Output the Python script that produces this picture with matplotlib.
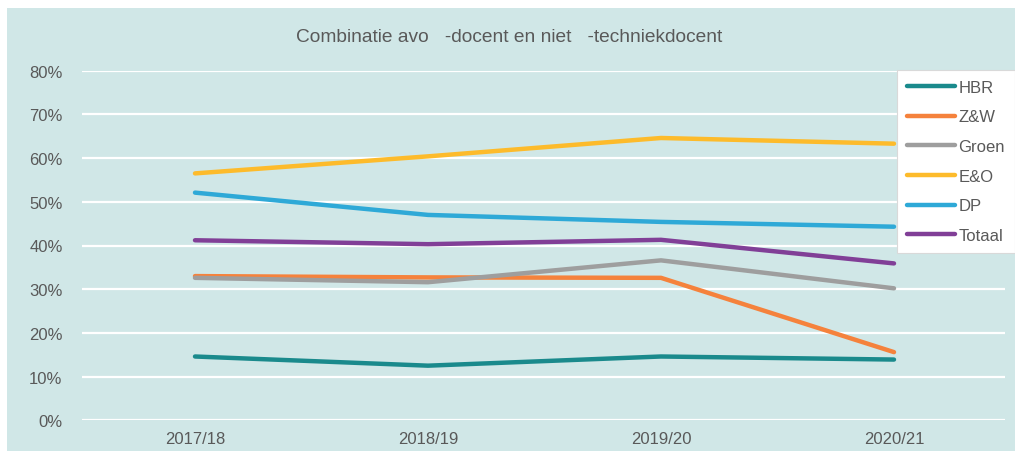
import matplotlib.pyplot as plt
from matplotlib.patches import Rectangle
from matplotlib.ticker import PercentFormatter

plt.rcParams['font.family'] = ['Liberation Sans', 'DejaVu Sans']

years = ['2017/18', '2018/19', '2019/20', '2020/21']
hbr = [0.146, 0.125, 0.146, 0.139]
zw = [0.330, 0.327, 0.326, 0.156]
groen = [0.326, 0.316, 0.366, 0.302]
eo = [0.565, 0.604, 0.646, 0.633]
dp = [0.521, 0.470, 0.454, 0.443]
totaal = [0.412, 0.403, 0.413, 0.359]

series = [('HBR', hbr, '#1a8a8c'),
          ('Z&W', zw, '#f5823c'),
          ('Groen', groen, '#9e9e9e'),
          ('E&O', eo, '#fdbb2b'),
          ('DP', dp, '#2ea9d7'),
          ('Totaal', totaal, '#813f97')]

txt = '#595959'
bg = '#d0e7e7'

fig = plt.figure(figsize=(10.15, 4.52), dpi=100)
fig.patches.append(Rectangle((7/1015, 0), 1 - 7/1015, 1 - 9/452,
                             transform=fig.transFigure, facecolor=bg,
                             edgecolor='none', zorder=-10))

ax = fig.add_axes([82/1015, (452-421.3)/452, (1005-82)/1015, (421.3-71.7)/452])
ax.set_facecolor('none')

x = list(range(len(years)))
for name, vals, col in series:
    ax.plot(x, vals, color=col, lw=3.2, label=name, solid_capstyle='round',
            solid_joinstyle='round')

ax.set_ylim(0, 0.8)
ax.set_xlim((82-195)/233, (1005-195)/233)
ax.set_yticks([i/10 for i in range(9)])
ax.yaxis.set_major_formatter(PercentFormatter(1.0, decimals=0))
ax.set_xticks(x)
ax.set_xticklabels(years)
ax.grid(axis='y', color='white', lw=1.6)
ax.set_axisbelow(True)
for s in ax.spines.values():
    s.set_visible(False)
ax.tick_params(axis='both', length=0, colors=txt, labelsize=12)
ax.tick_params(axis='y', pad=14)
ax.tick_params(axis='x', pad=8)

fig.text(509/1015, 1 - 38/452, 'Combinatie avo   -docent en niet   -techniekdocent',
         ha='center', va='center', fontsize=13.8, color=txt)

leg = fig.legend(loc='upper left', bbox_to_anchor=(897/1015, 1 - 71/452),
                 borderaxespad=0, frameon=True, fancybox=False,
                 fontsize=12, handlelength=2.9, handletextpad=0.2,
                 labelspacing=0.88, borderpad=0.58)
leg.get_frame().set_facecolor('white')
leg.get_frame().set_edgecolor('#d9d9d9')
leg.get_frame().set_linewidth(0.8)
leg.get_frame().set_alpha(1)
for t in leg.get_texts():
    t.set_color(txt)
for h in leg.legend_handles:
    h.set_linewidth(3.2)

fig.savefig('out.png', dpi=100)
